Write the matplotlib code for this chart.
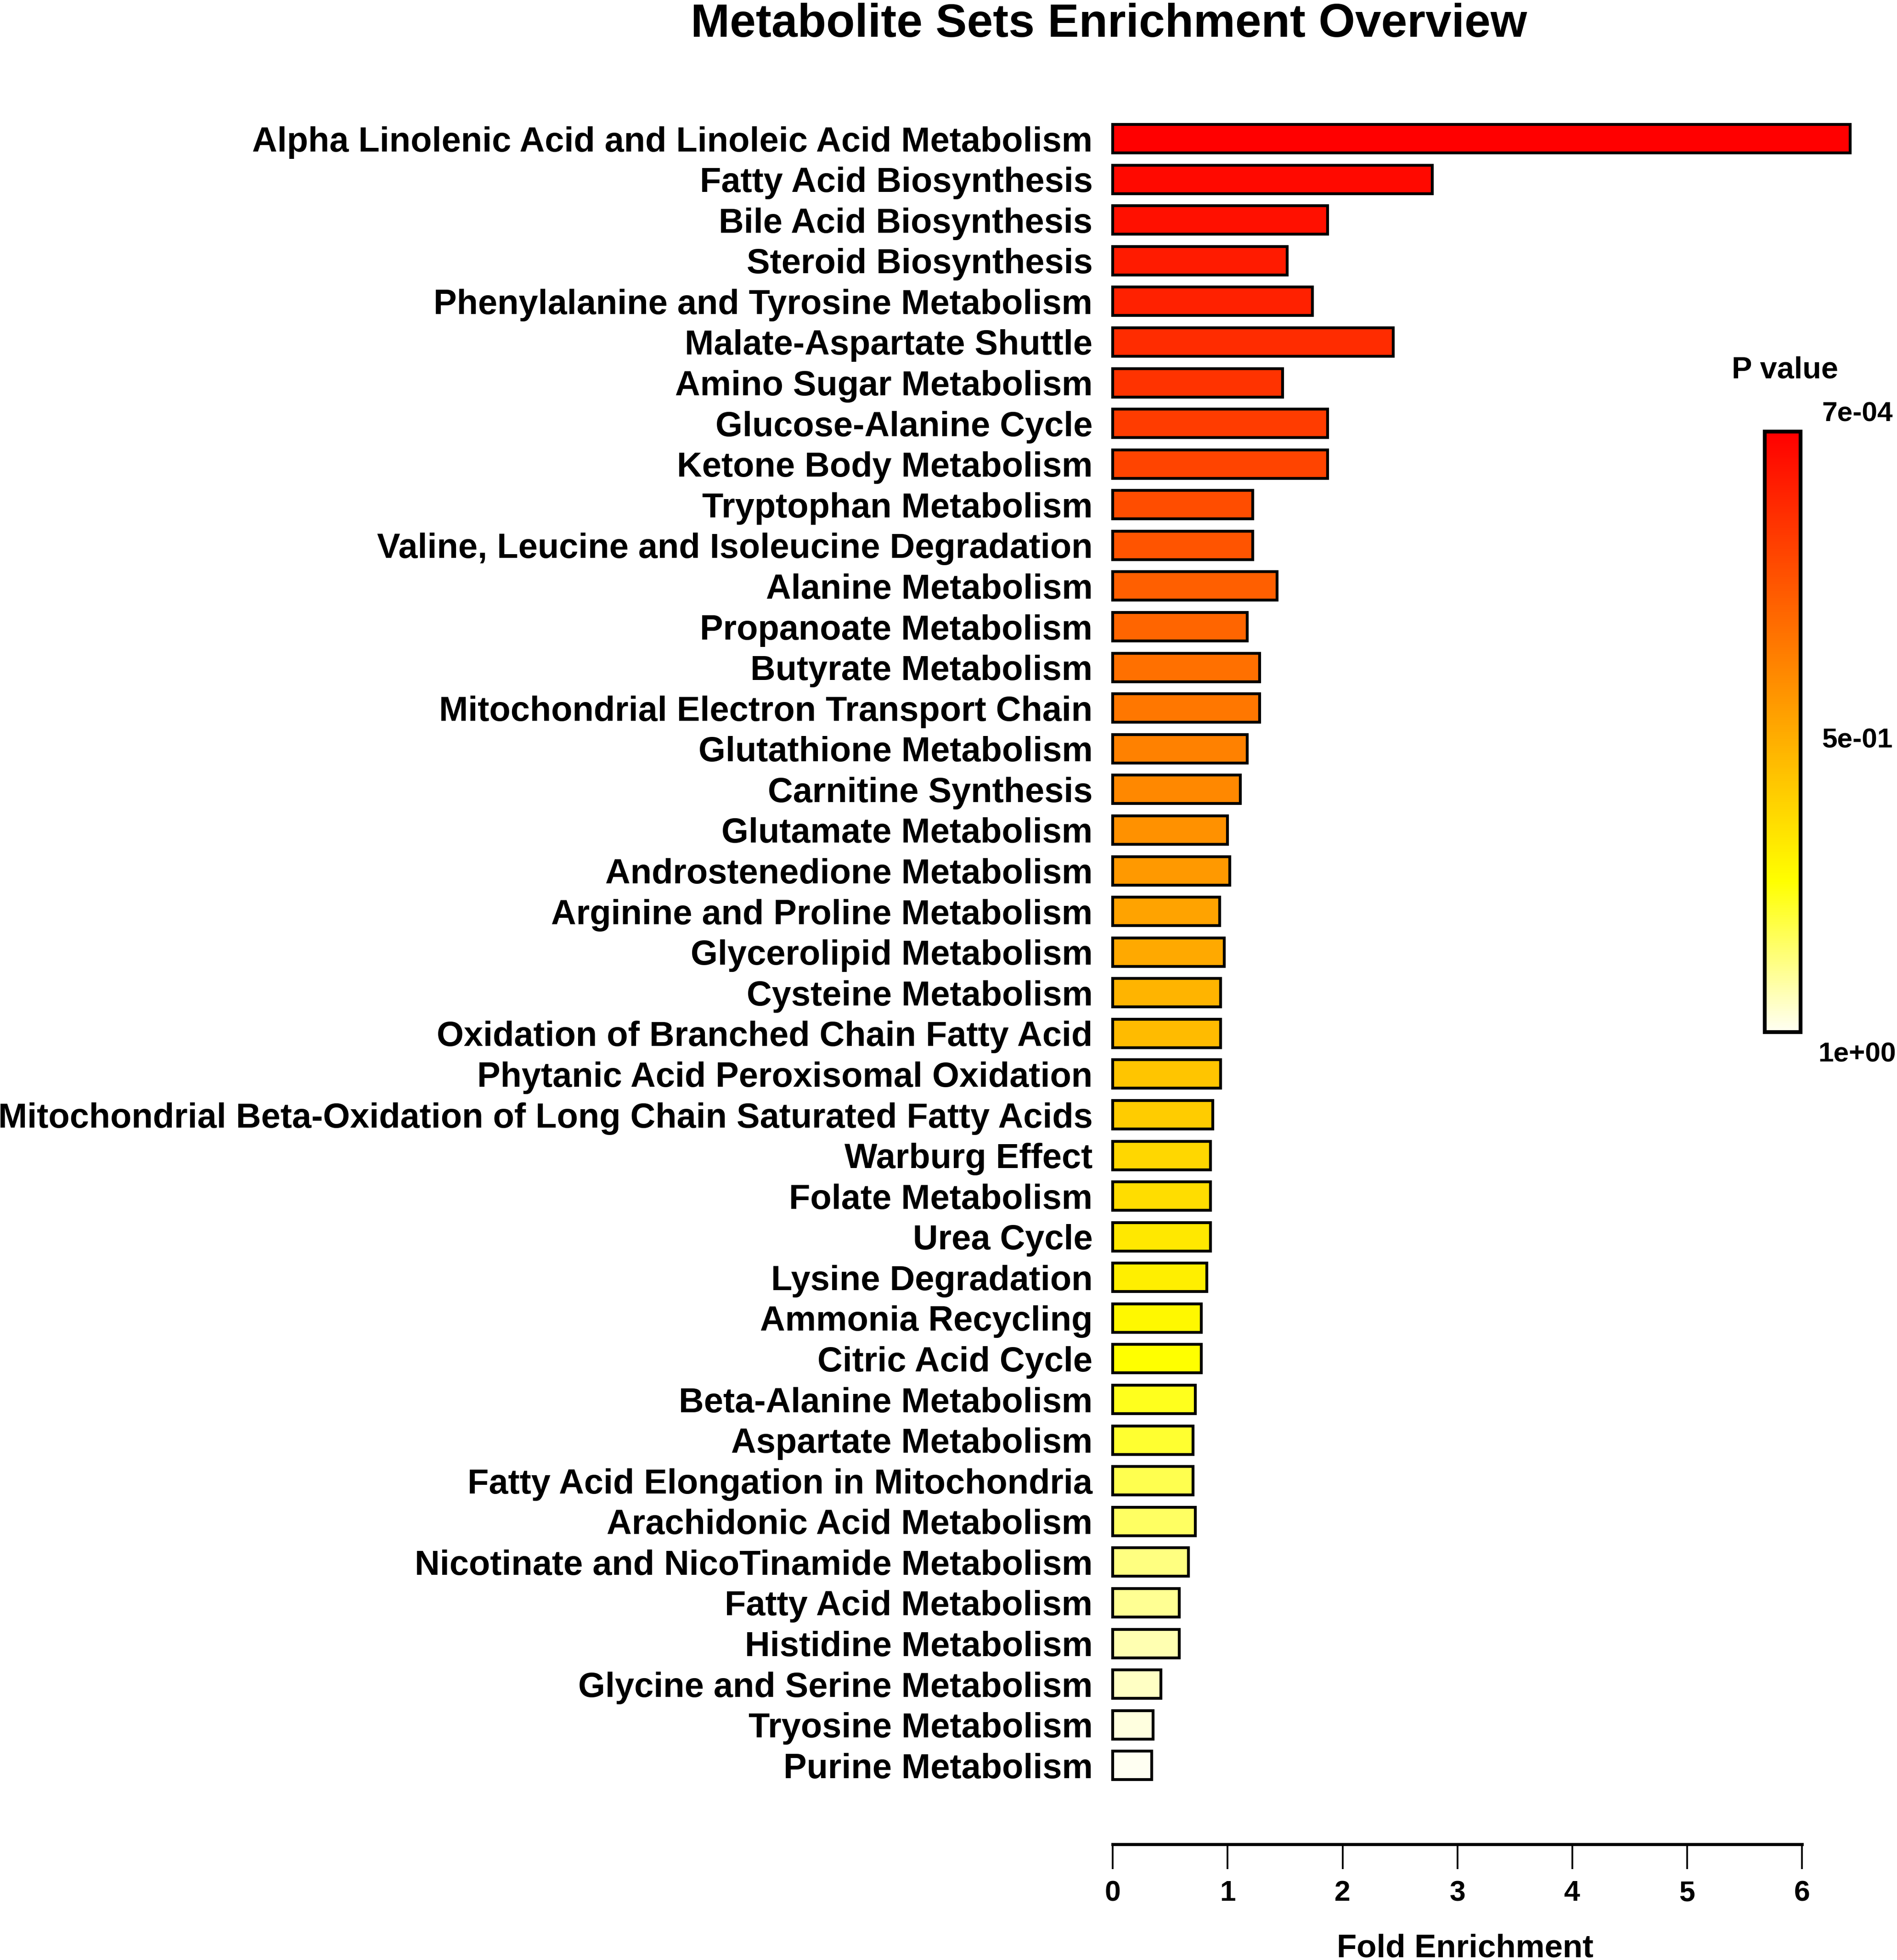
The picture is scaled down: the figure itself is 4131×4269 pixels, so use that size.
import numpy as np
import matplotlib
matplotlib.use("Agg")
import matplotlib.pyplot as plt
from matplotlib.colors import LinearSegmentedColormap, Normalize
from matplotlib.cm import ScalarMappable

plt.rcParams['font.family'] = ['Liberation Sans', 'DejaVu Sans']
plt.rcParams['font.weight'] = 'bold'

pathways = [
    "Alpha Linolenic Acid and Linoleic Acid Metabolism",
    "Fatty Acid Biosynthesis",
    "Bile Acid Biosynthesis",
    "Steroid Biosynthesis",
    "Phenylalanine and Tyrosine Metabolism",
    "Malate-Aspartate Shuttle",
    "Amino Sugar Metabolism",
    "Glucose-Alanine Cycle",
    "Ketone Body Metabolism",
    "Tryptophan Metabolism",
    "Valine, Leucine and Isoleucine Degradation",
    "Alanine Metabolism",
    "Propanoate Metabolism",
    "Butyrate Metabolism",
    "Mitochondrial Electron Transport Chain",
    "Glutathione Metabolism",
    "Carnitine Synthesis",
    "Glutamate Metabolism",
    "Androstenedione Metabolism",
    "Arginine and Proline Metabolism",
    "Glycerolipid Metabolism",
    "Cysteine Metabolism",
    "Oxidation of Branched Chain Fatty Acid",
    "Phytanic Acid Peroxisomal Oxidation",
    "Mitochondrial Beta-Oxidation of Long Chain Saturated Fatty Acids",
    "Warburg Effect",
    "Folate Metabolism",
    "Urea Cycle",
    "Lysine Degradation",
    "Ammonia Recycling",
    "Citric Acid Cycle",
    "Beta-Alanine Metabolism",
    "Aspartate Metabolism",
    "Fatty Acid Elongation in Mitochondria",
    "Arachidonic Acid Metabolism",
    "Nicotinate and NicoTinamide Metabolism",
    "Fatty Acid Metabolism",
    "Histidine Metabolism",
    "Glycine and Serine Metabolism",
    "Tryosine Metabolism",
    "Purine Metabolism",
]

fold_enrichment = [
    6.42, 2.78, 1.87, 1.52, 1.74, 2.44, 1.48, 1.87, 1.87, 1.22,
    1.22, 1.43, 1.17, 1.28, 1.28, 1.17, 1.11, 1.00, 1.02, 0.93,
    0.97, 0.94, 0.94, 0.94, 0.87, 0.85, 0.85, 0.85, 0.82, 0.77,
    0.77, 0.72, 0.70, 0.70, 0.72, 0.66, 0.58, 0.58, 0.42, 0.35,
    0.34,
]

p_values = [
    0.0007, 0.03, 0.05, 0.08, 0.10, 0.13, 0.15, 0.18, 0.20, 0.23,
    0.25, 0.28, 0.30, 0.33, 0.35, 0.38, 0.40, 0.43, 0.45, 0.48,
    0.50, 0.53, 0.55, 0.58, 0.60, 0.63, 0.65, 0.68, 0.70, 0.73,
    0.75, 0.78, 0.80, 0.83, 0.85, 0.88, 0.90, 0.93, 0.95, 0.98,
    1.00,
]

x_ticks = [0, 1, 2, 3, 4, 5, 6]
cbar_labels = ["7e-04", "5e-01", "1e+00"]

# heat colours: red -> yellow -> almost white
heat = LinearSegmentedColormap.from_list(
    "heat", [(0.0, "#FF0000"), (0.75, "#FFFF00"), (1.0, "#FFFFF2")])
norm = Normalize(vmin=min(p_values), vmax=max(p_values))

W, H = 4131, 4269
fig = plt.figure(figsize=(W / 300, H / 300), dpi=300)

ax = fig.add_axes([0.5866, 0.0590, 0.3633, 0.8831])
ypos = np.arange(len(pathways))
ax.barh(ypos, fold_enrichment, height=0.7, color=heat(norm(p_values)),
        edgecolor="black", linewidth=1.5, clip_on=False)

ax.set_xlim(0, 6)
ax.set_ylim(len(pathways) + 0.94, -0.62)
ax.set_yticks(ypos)
ax.set_yticklabels(pathways, fontsize=18.2, fontweight="bold")
ax.tick_params(axis="y", length=0, pad=10.5)
ax.set_xticks(x_ticks)
ax.set_xticklabels([str(t) for t in x_ticks], fontsize=15, fontweight="bold")
ax.tick_params(axis="x", length=13, width=0.9, pad=5.5)

for side in ["top", "right", "left"]:
    ax.spines[side].set_visible(False)
ax.spines["bottom"].set_bounds(0, 6)
ax.spines["bottom"].set_linewidth(1.6)

fig.text(0.7722, 0.0016, "Fold Enrichment", ha="center", va="baseline",
         fontsize=17, fontweight="bold")
fig.text(0.5844, 0.9813, "Metabolite Sets Enrichment Overview", ha="center",
         va="baseline", fontsize=24.5, fontweight="bold")

# colour key
cax = fig.add_axes([0.9303, 0.4734, 0.0189, 0.3064])
cb = fig.colorbar(ScalarMappable(norm=norm, cmap=heat), cax=cax)
cax.invert_yaxis()
cb.set_ticks([])
cb.outline.set_linewidth(2)

fig.text(0.9408, 0.811, "P value", ha="center", va="center",
         fontsize=16, fontweight="bold")
for lab, yy in zip(cbar_labels, [0.7887, 0.6222, 0.4619]):
    fig.text(0.979, yy, lab, ha="center", va="center",
             fontsize=14.5, fontweight="bold")

fig.savefig("out.png", dpi=300)
